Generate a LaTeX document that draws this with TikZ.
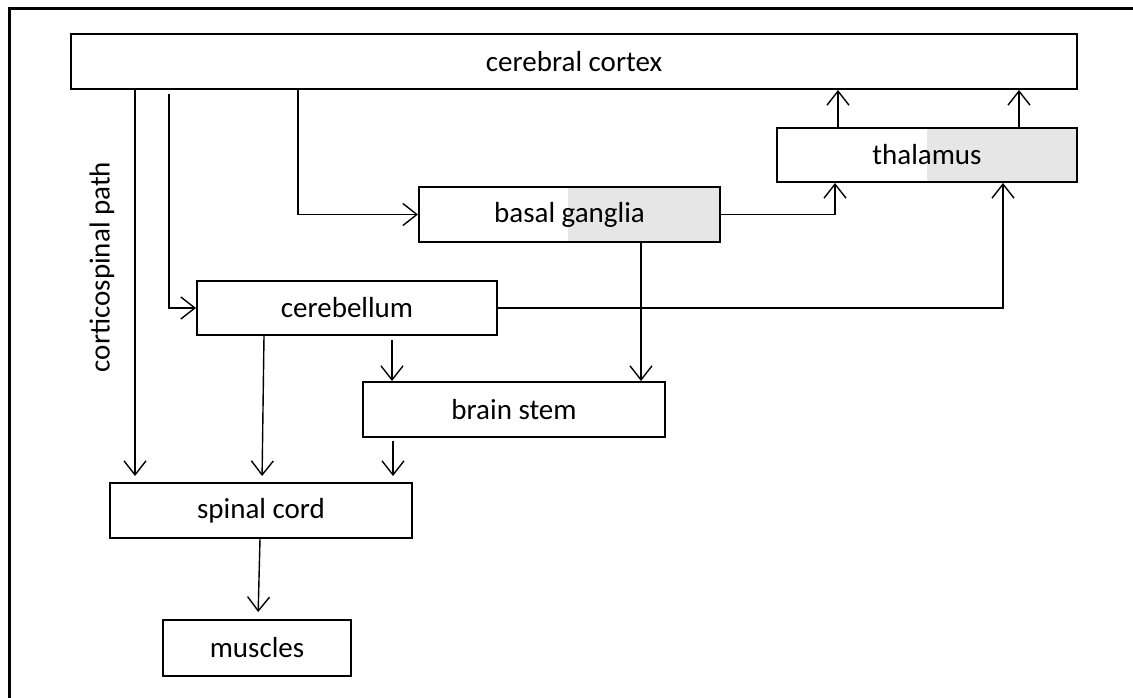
\documentclass[tikz,border=0pt]{standalone}
\usepackage{fontspec}
\setmainfont{Carlito}
\usetikzlibrary{arrows.meta,backgrounds}

\definecolor{boxgray}{RGB}{230,230,230}

\tikzset{
  box/.style={draw, line width=2pt, rectangle, inner sep=0pt,
              font=\fontsize{29}{34}\selectfont},
  arr/.style={line width=1.4pt,
              -{Straight Barb[length=14pt,width=22pt,line width=1.4pt]}},
  frameline/.style={line width=3pt}
}

\begin{document}
\begin{tikzpicture}[x=1pt,y=-1pt]
  \useasboundingbox (0,0) rectangle (1133,698);

  % outer frame (top and left edges)
  \draw[frameline] (9,720) -- (9,9) -- (1150,9);

  % boxes
  \node[box, minimum width=1006pt, minimum height=55pt] (cortex) at (574,61.5) {cerebral cortex};
  \node[box, minimum width=300pt, minimum height=54pt] (thalamus) at (927,155) {thalamus};
  \node[box, minimum width=301pt, minimum height=55pt] (basal) at (569.5,214.5) {basal ganglia};
  \node[box, minimum width=300pt, minimum height=54pt] (cerebellum) at (347,308) {cerebellum};
  \node[box, minimum width=302pt, minimum height=55pt] (brainstem) at (514,409.5) {brain stem};
  \node[box, minimum width=302pt, minimum height=55pt] (spinal) at (261,510.5) {spinal cord};
  \node[box, minimum width=188pt, minimum height=56pt] (muscles) at (257,648) {muscles};

  % grey right halves
  \begin{scope}[on background layer]
    \fill[boxgray] (thalamus.north) rectangle (thalamus.south east);
    \fill[boxgray] (568,0 |- basal.north) rectangle (basal.south east);
  \end{scope}

  % side label
  \node[rotate=90, font=\fontsize{29}{34}\selectfont] (cslabel) at (102,267) {corticospinal path};

  % connectors
  \draw[arr, shorten >=6pt] (135,0 |- cortex.south) -- (135,0 |- spinal.north);
  \draw[arr, shorten <=4pt] (169,0 |- cortex.south) |- (cerebellum.west);
  \draw[arr] (298,0 |- cortex.south) |- (basal.west);
  \draw[arr] (basal.east) -| (835,0 |- thalamus.south);
  \draw[arr] (cerebellum.east) -| (1003,0 |- thalamus.south);
  \draw[arr] (838,0 |- thalamus.north) -- (838,0 |- cortex.south);
  \draw[arr] (1019,0 |- thalamus.north) -- (1019,0 |- cortex.south);
  \draw[arr] (641,0 |- basal.south) -- (641,0 |- brainstem.north);
  \draw[arr, shorten <=4pt] (392,0 |- cerebellum.south) -- (392,0 |- brainstem.north);
  \draw[arr, shorten >=6pt] (264,0 |- cerebellum.south) -- (262,0 |- spinal.north);
  \draw[arr, shorten <=3pt, shorten >=6pt] (393,0 |- brainstem.south) -- (393,0 |- spinal.north);
  \draw[arr, shorten >=7pt] (260,0 |- spinal.south) -- (258,0 |- muscles.north);
\end{tikzpicture}
\end{document}
